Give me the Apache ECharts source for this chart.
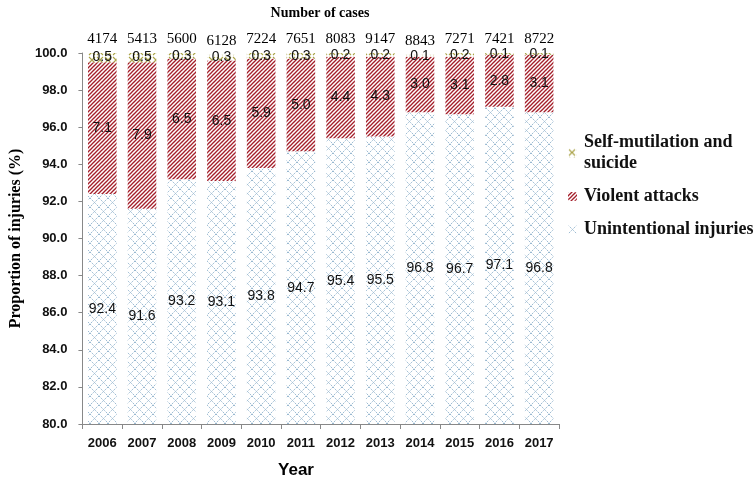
<!DOCTYPE html>
<html><head><meta charset="utf-8">
<script src="https://cdn.jsdelivr.net/npm/echarts@6/dist/echarts.min.js"></script>
<style>html,body{margin:0;padding:0;background:#fff}#c{width:754px;height:485px}</style>
</head><body><div id="c"></div>
<script>
const years = ['2006','2007','2008','2009','2010','2011','2012','2013','2014','2015','2016','2017'];
const cases = [4174,5413,5600,6128,7224,7651,8083,9147,8843,7271,7421,8722];
const unintentional = [92.4,91.6,93.2,93.1,93.8,94.7,95.4,95.5,96.8,96.7,97.1,96.8];
const violent = [7.1,7.9,6.5,6.5,5.9,5.0,4.4,4.3,3.0,3.1,2.8,3.1];
const selfHarm = [0.5,0.5,0.3,0.3,0.3,0.3,0.2,0.2,0.1,0.2,0.1,0.1];

function makePattern(size, draw){
  const c = document.createElement('canvas');
  c.width = size; c.height = size;
  const g = c.getContext('2d');
  g.fillStyle = '#fff'; g.fillRect(0,0,size,size);
  draw(g, size);
  return {image: c, repeat: 'repeat'};
}
const patUnint = makePattern(9, (g,s)=>{
  g.strokeStyle = '#98b8d0'; g.lineWidth = 1;
  g.setLineDash([1.5,1]);
  g.beginPath(); g.moveTo(0,0); g.lineTo(s,s); g.moveTo(s,0); g.lineTo(0,s); g.stroke();
});
const patViol = makePattern(4, (g,s)=>{
  g.strokeStyle = '#a41e2a'; g.lineWidth = 1.3;
  g.beginPath(); g.moveTo(-1,s+1); g.lineTo(s+1,-1); g.stroke();
  g.beginPath(); g.moveTo(-1,1); g.lineTo(1,-1); g.stroke();
  g.beginPath(); g.moveTo(s-1,s+1); g.lineTo(s+1,s-1); g.stroke();
});
const patSelf = makePattern(8, (g,s)=>{
  g.strokeStyle = '#aaa348'; g.lineWidth = 1.1;
  g.beginPath(); g.moveTo(1,1); g.lineTo(s-1,s-1); g.moveTo(s-1,1); g.lineTo(1,s-1); g.stroke();
});

const serif = '"Liberation Serif","Times New Roman",serif';
const sans = '"Liberation Sans",Arial,sans-serif';
const labelStyle = {show:true, position:'inside', color:'#111', fontFamily:sans, fontSize:14};
const names = ['Self-mutilation and suicide','Violent attacks','Unintentional injuries'];

const chart = echarts.init(document.getElementById('c'));
chart.setOption({
  animation:false,
  backgroundColor:'#fff',
  title:[
    {text:'Number of cases', left:315, top:1, textAlign:'center',
     textStyle:{fontFamily:serif, fontWeight:'bold', fontSize:14, color:'#000'}},
    {text:'Year', left:291, top:457, textAlign:'center',
     textStyle:{fontFamily:sans, fontWeight:'bold', fontSize:17, color:'#000'}}
  ],
  legend:{
    orient:'vertical', left:563, top:127, itemWidth:9, itemHeight:9, itemGap:12,
    data:names,
    formatter:function(n){ return n==='Self-mutilation and suicide' ? 'Self-mutilation and\nsuicide' : n; },
    textStyle:{fontFamily:serif, fontWeight:'bold', fontSize:18, color:'#111', lineHeight:21, padding:[0,0,0,2]}
  },
  grid:{left:73, right:195, top:53, bottom:61},
  xAxis:{
    type:'category', data:years,
    axisLine:{lineStyle:{color:'#888'}},
    axisTick:{show:true, length:5, lineStyle:{color:'#888'}},
    axisLabel:{fontFamily:sans, fontWeight:'bold', fontSize:13, color:'#111', margin:13}
  },
  yAxis:{
    type:'value', min:80, max:100, interval:2, startValue:80,
    name:'Proportion of injuries (%)', nameLocation:'middle', nameGap:56,
    nameTextStyle:{fontFamily:serif, fontWeight:'bold', fontSize:16, color:'#000'},
    axisLine:{show:true, lineStyle:{color:'#888'}},
    axisTick:{show:true, length:4, lineStyle:{color:'#888'}},
    splitLine:{show:false},
    axisLabel:{fontFamily:sans, fontWeight:'bold', fontSize:13, color:'#111', margin:15,
      formatter:v=>v.toFixed(1)}
  },
  series:[
    {name:names[2], type:'bar', stack:'a', data:unintentional, barCategoryGap:'28%',
     itemStyle:{color:patUnint}, label:Object.assign({},labelStyle,{formatter:p=>p.value.toFixed(1)})},
    {name:names[1], type:'bar', stack:'a', data:violent,
     itemStyle:{color:patViol}, label:Object.assign({},labelStyle,{formatter:p=>p.value.toFixed(1)})},
    {name:names[0], type:'bar', stack:'a', data:selfHarm,
     itemStyle:{color:patSelf},
     label:Object.assign({},labelStyle,{formatter:p=>p.value.toFixed(1)})},
    {name:'cases', type:'bar', stack:'a', data:cases.map(()=>0),
     itemStyle:{color:'transparent'}, silent:true,
     label:{show:true, position:'top', distance:6, color:'#000', fontFamily:serif, fontSize:15,
       formatter:p=>String(cases[p.dataIndex])}}
  ]
});
</script></body></html>
